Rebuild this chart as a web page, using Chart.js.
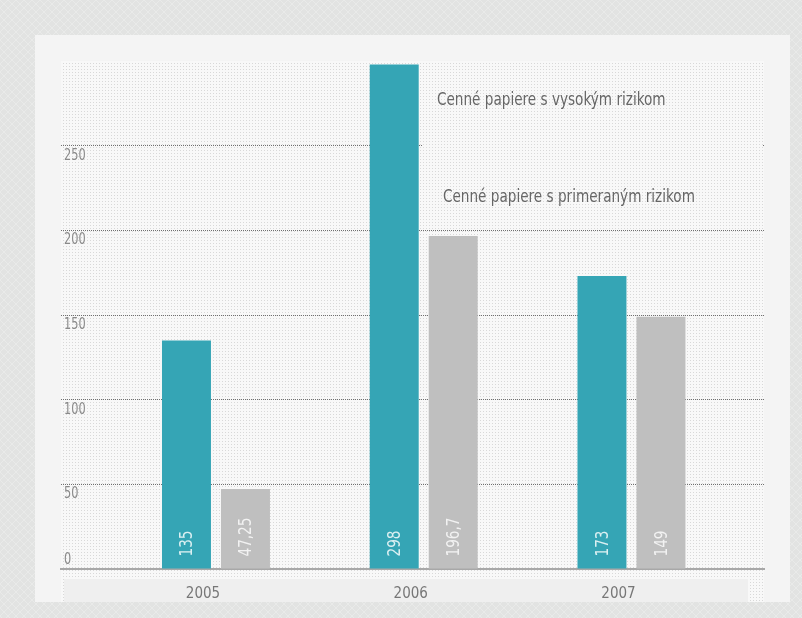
<!DOCTYPE html>
<html>
<head>
<meta charset="utf-8">
<script src="https://cdn.jsdelivr.net/npm/chart.js@4.4.0/dist/chart.umd.min.js"></script>
<style>
  html, body { margin: 0; padding: 0; background: #e3e4e3; }
  canvas { display: block; }
</style>
</head>
<body>
<canvas id="rizikoChart" width="802" height="618"></canvas>
<script>
const years = ['2005', '2006', '2007']
const vysokeRiziko = [135, 298, 173]
const primeraneRiziko = [47.25, 196.7, 149]
const seriesNames = ['Cenné papiere s vysokým rizikom', 'Cenné papiere s primeraným rizikom']
const yTicks = [0, 50, 100, 150, 200, 250]

const FONT = '"DejaVu Sans Condensed", "Liberation Sans Narrow", sans-serif'
const SQUEEZE = 0.84 // the original font is narrower than anything installed

// small tiles for the textured backgrounds
const tile = (size, bg, draw) => {
    const c = document.createElement('canvas')
    c.width = size
    c.height = size
    const g = c.getContext('2d')
    g.fillStyle = bg
    g.fillRect(0, 0, size, size)
    draw(g)
    return c
}
const dotTile = tile(3, '#f8f8f8', g => { g.fillStyle = '#d8d8d8'; g.fillRect(0, 0, 1, 1) })
const pageTile = tile(8, '#e2e3e2', g => {
    g.strokeStyle = '#e9eae9'
    g.beginPath()
    g.moveTo(0, 0); g.lineTo(8, 8)
    g.moveTo(8, 0); g.lineTo(0, 8)
    g.stroke()
})

const formatValue = v => String(v).replace('.', ',')

const narrowText = (ctx, text, x, y) => {
    ctx.save()
    ctx.translate(x, y)
    ctx.scale(SQUEEZE, 1)
    ctx.fillText(text, 0, 0)
    ctx.restore()
}

const decor = {
    id: 'decor',
    beforeDraw(chart) {
        const ctx = chart.ctx
        const a = chart.chartArea
        ctx.save()
        ctx.fillStyle = ctx.createPattern(pageTile, 'repeat')
        ctx.fillRect(0, 0, chart.width, chart.height)
        ctx.fillStyle = '#f4f4f4'
        ctx.fillRect(35, 35, 755, 567)
        ctx.fillStyle = ctx.createPattern(dotTile, 'repeat')
        ctx.fillRect(a.left, a.top, a.right - a.left, 602 - a.top)
        // band under the axis
        ctx.fillStyle = '#efefef'
        ctx.fillRect(a.left + 3, a.bottom + 10, 684, 602 - a.bottom - 10)
        ctx.restore()
    },
    beforeDatasetsDraw(chart) {
        const ctx = chart.ctx
        const a = chart.chartArea
        const y = chart.scales.y
        ctx.save()
        // legend box sits over the 250 gridline
        ctx.fillStyle = ctx.createPattern(dotTile, 'repeat')
        const y250 = y.getPixelForValue(250)
        ctx.fillRect(a.left + 361, y250 - 3, a.right - a.left - 362, 6)

        ctx.textAlign = 'left'
        ctx.textBaseline = 'middle'
        ctx.font = `18px ${FONT}`
        ctx.fillStyle = '#666'
        const legendPos = [[376, 39], [382, 136]]
        chart.data.datasets.forEach((ds, i) => {
            narrowText(ctx, ds.label, a.left + legendPos[i][0], a.top + legendPos[i][1])
        })

        // y labels sit inside the plot, under their line
        ctx.font = `15px ${FONT}`
        ctx.fillStyle = '#8a8a8a'
        y.ticks.forEach(t => {
            const py = y.getPixelForValue(t.value)
            narrowText(ctx, String(t.value), a.left + 3, py + (t.value === 0 ? -9 : 10))
        })
        ctx.restore()
    },
    afterDatasetsDraw(chart) {
        const ctx = chart.ctx
        chart.data.datasets.forEach((ds, di) => {
            chart.getDatasetMeta(di).data.forEach((bar, i) => {
                ctx.save()
                ctx.translate(bar.x, bar.base - 12)
                ctx.rotate(-Math.PI / 2)
                ctx.scale(SQUEEZE, 1)
                ctx.font = `18px ${FONT}`
                ctx.textAlign = 'left'
                ctx.textBaseline = 'middle'
                ctx.fillStyle = di === 0 ? '#dcf0f2' : '#f2f2f2'
                ctx.fillText(formatValue(ds.data[i].y), 0, 1)
                ctx.restore()
            })
        })
    }
}

new Chart(
    document.getElementById('rizikoChart'),
    {
        type: 'bar',
        plugins: [decor],
        data: {
            datasets: [
                {
                    label: seriesNames[0],
                    data: years.map((yr, i) => ({ x: i, y: vysokeRiziko[i] })),
                    backgroundColor: '#35a5b5',
                },
                {
                    label: seriesNames[1],
                    data: years.map((yr, i) => ({ x: i, y: primeraneRiziko[i] })),
                    backgroundColor: '#bfbfbf',
                },
            ]
        },
        options: {
            responsive: false,
            animation: false,
            layout: { padding: { left: 61, right: 38, top: 61, bottom: 16 } },
            datasets: {
                bar: { categoryPercentage: 0.568, barPercentage: 0.83 }
            },
            plugins: {
                legend: { display: false },
                tooltip: { enabled: false }
            },
            scales: {
                x: {
                    type: 'linear',
                    offset: false,
                    min: -0.746,
                    max: 2.638,
                    afterFit: s => { s.height = 33 },
                    afterBuildTicks: s => { s.ticks = years.map((yr, i) => ({ value: i })) },
                    grid: { display: false, drawTicks: false },
                    border: { display: true, color: '#a8a8a8', width: 2 },
                    ticks: {
                        callback: v => years[v],
                        labelOffset: -13,
                        padding: 16,
                        maxRotation: 0,
                        autoSkip: false,
                        color: '#777',
                        font: { family: FONT, size: 15 }
                    }
                },
                y: {
                    min: 0,
                    max: 300,
                    afterFit: s => { s.width = 0 },
                    afterBuildTicks: s => { s.ticks = yTicks.map(v => ({ value: v })) },
                    ticks: { display: false },
                    grid: {
                        drawTicks: false,
                        color: c => (c.tick && c.tick.value > 0 ? '#707070' : 'rgba(0,0,0,0)')
                    },
                    border: { display: false, dash: [1, 1] }
                }
            }
        }
    }
)
</script>
</body>
</html>
